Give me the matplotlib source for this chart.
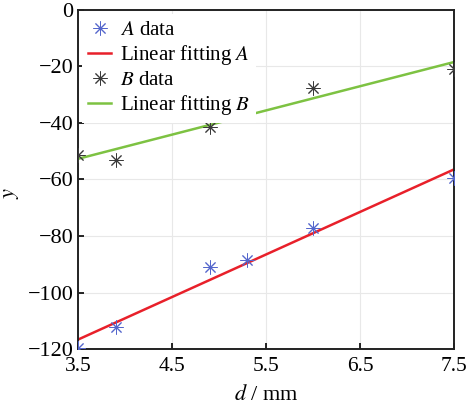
import numpy as np
import matplotlib
matplotlib.use('Agg')
import matplotlib.pyplot as plt

matplotlib.rcParams['font.family'] = 'Liberation Serif'
matplotlib.rcParams['mathtext.fontset'] = 'stix'
matplotlib.rcParams['font.size'] = 16
matplotlib.rcParams['axes.unicode_minus'] = True

# 측정 데이터 (d / mm, y)
d = [3.5, 3.9, 4.9, 5.3, 6.0, 7.5]
y_a = [-119.5, -112.3, -91.0, -88.5, -77.0, -59.5]
y_b = [-51.3, -53.0, -41.4, -35.4, -27.6, -20.9]

x_ticks = [3.5, 4.5, 5.5, 6.5, 7.5]
y_ticks = [-120, -100, -80, -60, -40, -20, 0]

# 1차 선형 피팅
k_a, b_a = np.polyfit(d, y_a, 1)
k_b, b_b = np.polyfit(d, y_b, 1)
x_fit = np.array([3.5, 7.5])

fig = plt.figure(figsize=(4.69, 4.15), dpi=100)
ax = fig.add_axes([0.166, 0.159, 0.803, 0.817])

star = (8, 2, 0)  # 8갈래 별표 마커
ax.plot(d, y_a, linestyle='none', marker=star, markersize=10,
        markeredgewidth=0.7, color='#5466cc', label='$A$ data', zorder=3)
ax.plot(x_fit, k_a * x_fit + b_a, color='#e8202a', lw=1.8,
        label='Linear fitting $A$', zorder=2)
ax.plot(d, y_b, linestyle='none', marker=star, markersize=10,
        markeredgewidth=0.7, color='#3a3a3a', label='$B$ data', zorder=3)
ax.plot(x_fit, k_b * x_fit + b_b, color='#7dc242', lw=1.8,
        label='Linear fitting $B$', zorder=2)

ax.set_xlim(3.5, 7.5)
ax.set_ylim(-120, 0)
ax.set_xticks(x_ticks)
ax.set_yticks(y_ticks)
ax.grid(True, color='#e8e8e8', lw=0.8)
ax.set_axisbelow(True)
ax.tick_params(direction='in', length=4, width=1.2, top=False, right=False)
ax.tick_params(axis='x', pad=6, labelsize=15.5)
ax.tick_params(axis='y', pad=3)
for s in ax.spines.values():
    s.set_linewidth(1.4)
    s.set_color('#222222')

ax.set_xlabel('$d$ / mm', labelpad=6)
ax.set_ylabel('$y$')
ax.yaxis.set_label_coords(-0.15, 0.46)

leg = ax.legend(loc='upper left', frameon=True, fancybox=False,
                edgecolor='none', facecolor='white', framealpha=1,
                fontsize=15, handlelength=1.1, handletextpad=0.4,
                labelspacing=0.15, borderaxespad=0.2, borderpad=0.3,
                numpoints=1)
leg.set_zorder(5)

fig.savefig('out.png', dpi=100)
